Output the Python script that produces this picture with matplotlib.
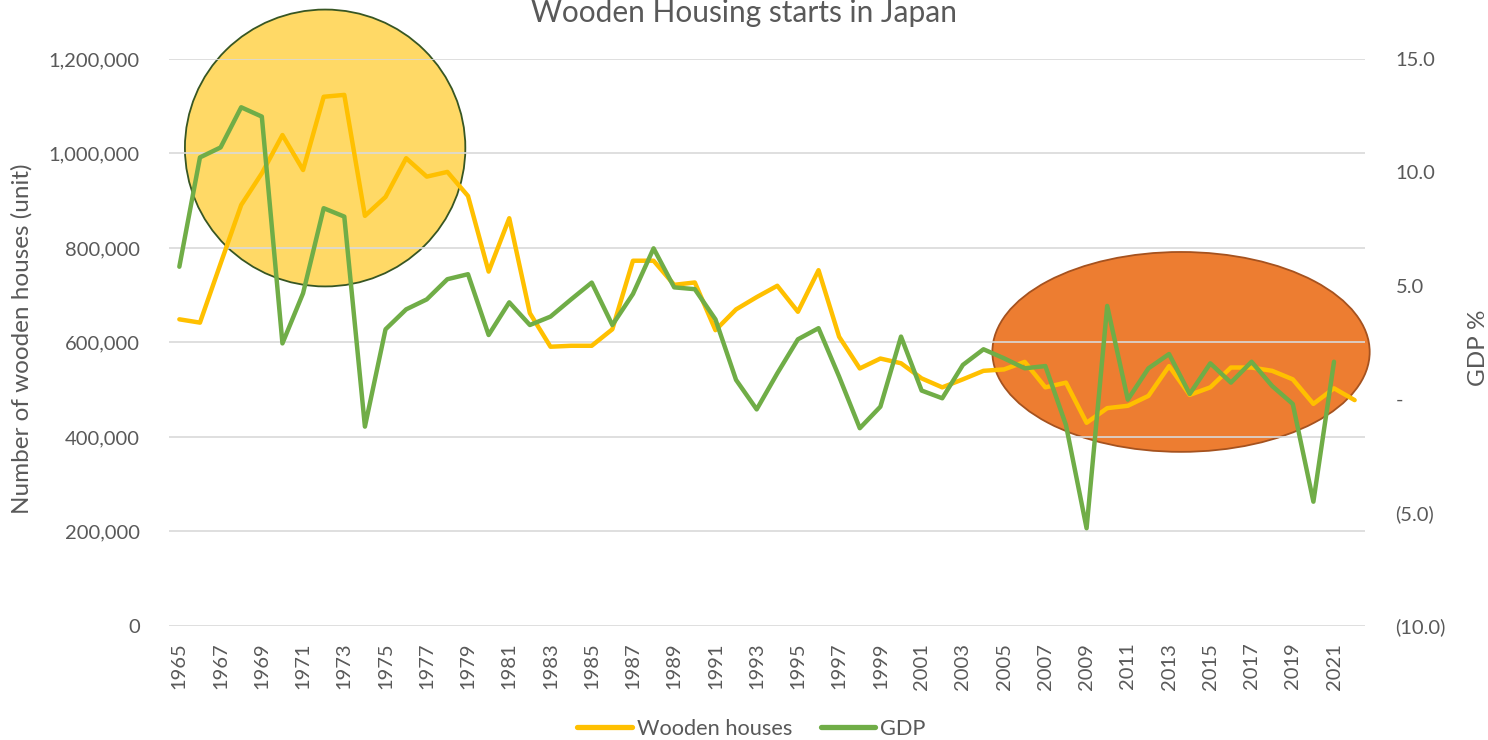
import numpy as np
import matplotlib
matplotlib.use("Agg")
import matplotlib.pyplot as plt
from matplotlib.patches import Ellipse
from matplotlib.ticker import FuncFormatter

plt.rcParams['font.family'] = ['Lato', 'DejaVu Sans']

years = list(range(1965, 2023))

# wooden housing starts (units), 1965-2022
wooden = [649000, 642000, 767000, 891000, 958000, 1039000, 965000, 1120000,
          1124000, 868000, 908000, 990000, 951000, 961000, 910000, 750000,
          863000, 662000, 591000, 593000, 593000, 628000, 773000, 773000,
          722000, 727000, 626000, 670000, 696000, 720000, 665000, 753000,
          612000, 545000, 566000, 556000, 524000, 505000, 522000, 540000,
          543000, 559000, 505000, 515000, 430000, 461000, 466000, 487000,
          550000, 489000, 505000, 547000, 547000, 540000, 522000, 470000,
          503000, 478000]

# real GDP growth (%), 1965-2021
gdp = [5.84, 10.66, 11.1, 12.87, 12.46, 2.46, 4.67, 8.42, 8.05, -1.21,
       3.08, 3.96, 4.4, 5.29, 5.51, 2.83, 4.27, 3.27, 3.64, 4.4,
       5.14, 3.27, 4.64, 6.65, 4.93, 4.85, 3.52, 0.85, -0.45, 1.14,
       2.64, 3.13, 0.99, -1.28, -0.33, 2.76, 0.38, 0.04, 1.51, 2.2,
       1.8, 1.36, 1.46, -1.14, -5.69, 4.11, -0.02, 1.36, 1.99, 0.23,
       1.58, 0.73, 1.65, 0.58, -0.21, -4.52, 1.65]

text_col = '#595959'
grid_col = '#D9D9D9'

fig = plt.figure(figsize=(14.88, 7.4), dpi=100)
ax1 = fig.add_axes([0.1136, 0.1541, 0.8037, 0.7662])
ax2 = ax1.twinx()

x = np.arange(len(years))
x_gdp = np.arange(len(gdp))

# highlight shapes behind the lines
ax1.add_patch(Ellipse((7.07, 1011600), 13.6, 586000, facecolor='#FFD966',
                      edgecolor='#375623', lw=1.3, zorder=0.2, clip_on=False))
ax1.add_patch(Ellipse((48.58, 580000), 18.3, 423000, facecolor='#ED7D31',
                      edgecolor='#A5521F', lw=1.3, zorder=0.2, clip_on=False))

l1, = ax1.plot(x, wooden, color='#FFC000', lw=3.2, solid_capstyle='round',
               solid_joinstyle='round', label='Wooden houses')
l2, = ax2.plot(x_gdp, gdp, color='#70AD47', lw=3.2, solid_capstyle='round',
               solid_joinstyle='round', label='GDP')

ax1.set_xlim(-0.5, len(years) - 0.5)
ax1.set_ylim(0, 1200000)
ax2.set_ylim(-10, 15)

ax1.set_axisbelow(True)
ax1.set_yticks(np.arange(0, 1200001, 200000))
ax1.yaxis.set_major_formatter(FuncFormatter(lambda v, p: f'{int(v):,}'))
ax1.grid(axis='y', color=grid_col, lw=1.2)

def gdp_fmt(v, p):
    if abs(v) < 1e-9:
        return '-'
    if v < 0:
        return f'({-v:.1f})'
    return f'{v:.1f}'

ax2.set_yticks(np.arange(-10, 16, 5))
ax2.yaxis.set_major_formatter(FuncFormatter(gdp_fmt))

ax1.set_xticks(x[::2])
ax1.set_xticklabels([str(y) for y in years[::2]], rotation=90)

for ax in (ax1, ax2):
    for s in ax.spines.values():
        s.set_visible(False)
    ax.tick_params(length=0, colors=text_col, labelsize=14.5)
ax1.tick_params(axis='y', pad=21)
ax2.tick_params(axis='y', pad=22)
ax1.tick_params(axis='x', pad=12)

ax1.set_ylabel('Number of wooden houses (unit)', color=text_col, fontsize=17.5)
ax1.yaxis.set_label_coords(-0.1137, 0.506)
ax2.set_ylabel('GDP %', color=text_col, fontsize=17.5)
ax2.yaxis.set_label_coords(1.0861, 0.49)

fig.text(0.5, 0.9703, 'Wooden Housing starts in Japan', ha='center',
         va='baseline', fontsize=21.5, color=text_col)

leg = fig.legend(handles=[l1, l2], loc='center', bbox_to_anchor=(0.505, 0.0149),
                 ncol=2, frameon=False, fontsize=15.7, handlelength=2.5,
                 handletextpad=0.23, columnspacing=1.3, labelcolor=text_col)
for h in leg.get_lines():
    h.set_linewidth(3.8)

fig.savefig('out.png', dpi=100)
